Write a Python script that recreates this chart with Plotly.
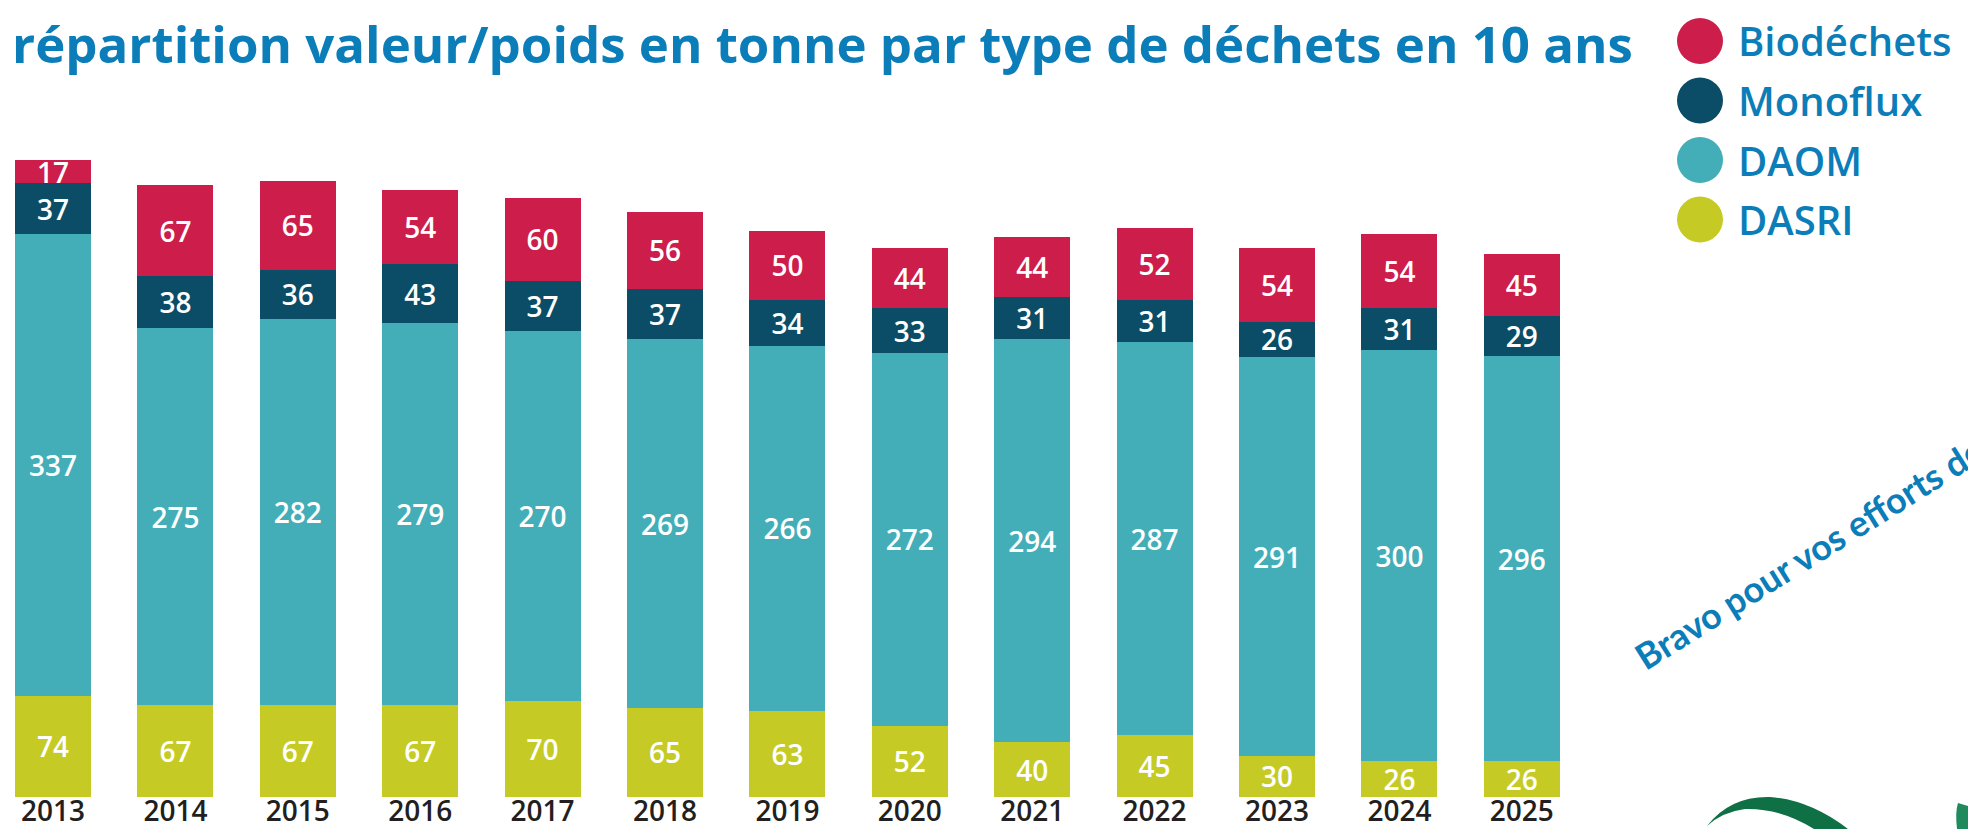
import plotly.graph_objects as go

# ---- data ----
years = ["2013", "2014", "2015", "2016", "2017", "2018", "2019",
         "2020", "2021", "2022", "2023", "2024", "2025"]
biodechets = [17, 67, 65, 54, 60, 56, 50, 44, 44, 52, 54, 54, 45]
monoflux = [37, 38, 36, 43, 37, 37, 34, 33, 31, 31, 26, 31, 29]
daom = [337, 275, 282, 279, 270, 269, 266, 272, 294, 287, 291, 300, 296]
dasri = [74, 67, 67, 67, 70, 65, 63, 52, 40, 45, 30, 26, 26]

legend_names = ["Biodéchets", "Monoflux", "DAOM", "DASRI"]
title_text = "répartition valeur/poids en tonne par type de déchets en 10 ans"
slogan_text = "Bravo pour vos efforts de tri !"

# ---- style ----
C_BIO = "#cc1d4b"
C_MONO = "#0b4c66"
C_DAOM = "#43aeb8"
C_DASRI = "#c5cb24"
C_BLUE = "#0b7db8"
FONT = "Open Sans, Lato, sans-serif"

W_FIG, H_FIG = 1968, 829
M_L, M_R, M_T, M_B = 0, 368, 90, 32
PW = W_FIG - M_L - M_R
PH = H_FIG - M_T - M_B
PITCH = 122.4          # px per category
FIRST_CENTER = 53      # px of first bar centre
PX_PER_UNIT = 1.37


def px(x, y):
    return (x - M_L) / PW, (H_FIG - M_B - y) / PH


fig = go.Figure()
stack = [("DASRI", dasri, C_DASRI), ("DAOM", daom, C_DAOM),
         ("Monoflux", monoflux, C_MONO), ("Biodéchets", biodechets, C_BIO)]
for name, vals, col in stack:
    fig.add_trace(go.Bar(
        x=years, y=vals, name=name, marker=dict(color=col, line=dict(width=0)),
        text=[str(v) for v in vals], textposition="inside",
        insidetextanchor="middle", textangle=0,
        textfont=dict(family=FONT, size=28, color="white", weight=600),
        showlegend=False, hoverinfo="skip",
    ))

x0 = -(FIRST_CENTER - M_L) / PITCH
fig.update_layout(
    width=W_FIG, height=H_FIG,
    margin=dict(l=M_L, r=M_R, t=M_T, b=M_B, pad=0, autoexpand=False),
    barmode="stack", bargap=0.38,
    paper_bgcolor="white", plot_bgcolor="white",
    uniformtext=dict(minsize=28, mode="show"),
    xaxis=dict(type="category", range=[x0, x0 + PW / PITCH], automargin=False,
               showgrid=False, zeroline=False, showline=False, ticks="",
               tickfont=dict(family=FONT, size=28, color="#231f20", weight=600),
               ticklabelstandoff=-5),
    yaxis=dict(range=[0, PH / PX_PER_UNIT], visible=False, showgrid=False,
               automargin=False),
)

annotations = []
shapes = []

# title
tx, ty = px(10, 43)
annotations.append(dict(text=title_text, x=tx, y=ty, xref="paper", yref="paper",
                        xanchor="left", yanchor="middle", showarrow=False,
                        font=dict(family=FONT, size=51, color=C_BLUE, weight=700)))

# legend (manual, large circles)
legend_colors = [C_BIO, C_MONO, C_DAOM, C_DASRI]
for i, (name, col) in enumerate(zip(legend_names, legend_colors)):
    cy = 41 + 59.5 * i
    ax0, ay0 = px(1677, cy - 23)
    ax1, ay1 = px(1723, cy + 23)
    shapes.append(dict(type="circle", xref="paper", yref="paper",
                       x0=ax0, x1=ax1, y0=ay1, y1=ay0,
                       fillcolor=col, line=dict(width=0)))
    lx, ly = px(1736, cy)
    annotations.append(dict(text=name, x=lx, y=ly, xref="paper", yref="paper",
                            xanchor="left", yanchor="middle", showarrow=False,
                            font=dict(family=FONT, size=40, color=C_BLUE, weight=600)))

# slanted slogan
sx, sy = px(1836, 536)
annotations.append(dict(text=slogan_text, x=sx, y=sy, xref="paper", yref="paper",
                        xanchor="center", yanchor="middle", showarrow=False,
                        textangle=-32,
                        font=dict(family="Lato, sans-serif", size=36, color=C_BLUE, weight=700)))


# decorative leaf arc at bottom right
def path_from_px(points):
    parts = []
    for cmd, pts in points:
        coords = " ".join("%.5f,%.5f" % px(a, b) for a, b in pts)
        parts.append(cmd + coords)
    return " ".join(parts) + " Z"


leaf = path_from_px([
    ("M", [(1707, 826)]),
    ("Q", [(1730, 796), (1770, 797)]),
    ("Q", [(1810, 800), (1848, 829)]),
    ("L", [(1814, 829)]),
    ("Q", [(1780, 808), (1745, 809)]),
    ("Q", [(1722, 812), (1707, 826)]),
])
shapes.append(dict(type="path", xref="paper", yref="paper", path=leaf,
                   fillcolor="#107045", line=dict(width=0)))
leaf2 = path_from_px([
    ("M", [(1957, 829)]),
    ("Q", [(1955, 812), (1958, 803)]),
    ("L", [(1968, 806)]),
    ("L", [(1968, 829)]),
])
shapes.append(dict(type="path", xref="paper", yref="paper", path=leaf2,
                   fillcolor="#1f8a5e", line=dict(width=0)))

fig.update_layout(annotations=annotations, shapes=shapes)
fig.write_html("out.html", config={"displayModeBar": False},
               post_script="document.body.style.margin='0';document.body.style.overflow='hidden';")
